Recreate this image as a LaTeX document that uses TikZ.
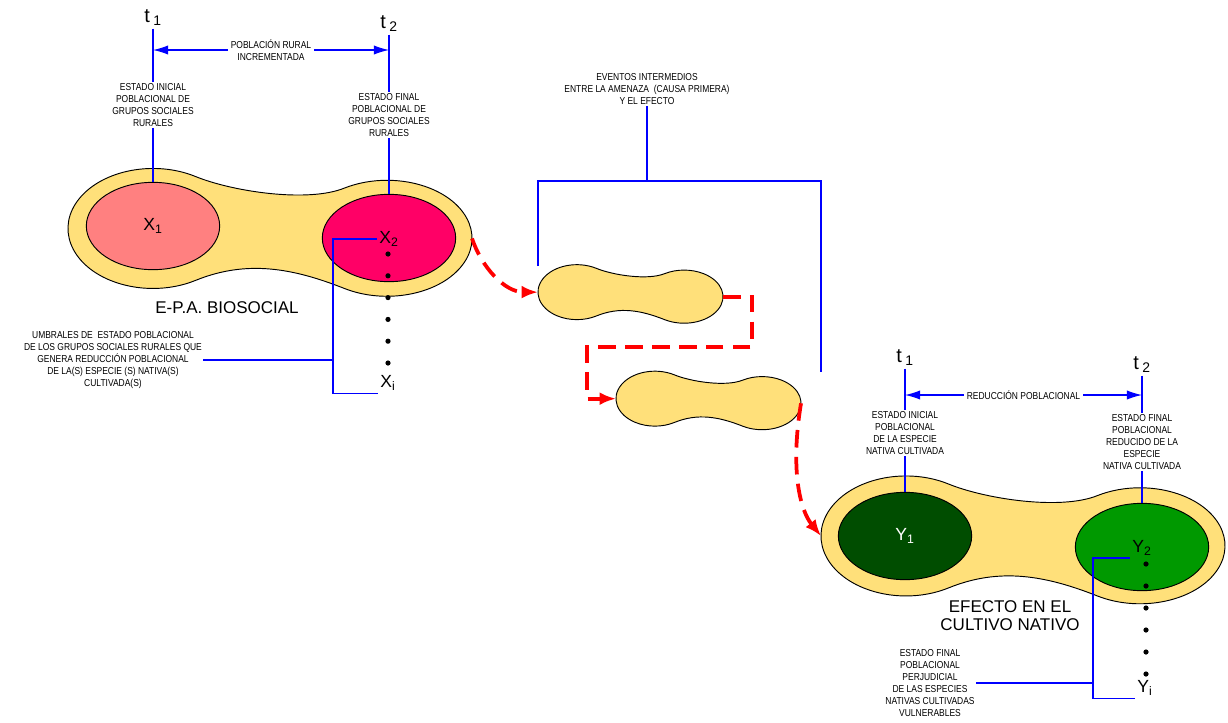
\documentclass[tikz,border=0pt]{standalone}
\usepackage{fontspec}
\setmainfont{Liberation Sans}
\newfontfamily\narrowfont{Liberation Sans}[FakeStretch=0.84]
\usetikzlibrary{shapes.geometric, arrows.meta}

\definecolor{mani}{RGB}{255,224,122}
\definecolor{salmon}{RGB}{255,128,128}
\definecolor{rosa}{RGB}{255,0,102}
\definecolor{verdeosc}{RGB}{0,77,0}
\definecolor{verde}{RGB}{0,153,0}
\definecolor{azul}{RGB}{0,0,255}

\tikzset{
	peanut/.pic={
		\draw[line width=0.8pt, fill=mani] (-74.5,-56) arc[start angle=-60, end angle=-300, x radius=85, y radius=60]
			.. controls (-23,27) and (23,35.7) .. (74.5,56) arc[start angle=120, end angle=-120, x radius=85, y radius=58]
			.. controls (37.7,-29.5) and (-37.7,-41) .. cycle;
		\coordinate (-w) at (-202,-4);
		\coordinate (-e) at (202,6);
	}
}

\begin{document}
\begin{tikzpicture}[x=0.03cm, y=-0.03cm,
	small/.style={font=\narrowfont\fontsize{8.6}{10.4}\selectfont, align=center, inner sep=1pt},
	big/.style={font=\fontsize{14.5}{15.6}\selectfont, align=center, inner sep=1pt},
	tiempo/.style={font=\fontsize{17}{17}\selectfont, inner sep=2pt},
	var/.style={font=\fontsize{15}{15}\selectfont, inner sep=2pt},
	estado/.style={shape=ellipse, draw, line width=0.8pt, minimum width=4cm, minimum height=2.62cm},
	bline/.style={draw=azul, line width=1pt},
	barrow/.style={bline, {Latex[length=13pt,width=8pt]}-{Latex[length=13pt,width=8pt]}},
	rflow/.style={draw=red, line width=3.2pt, dash pattern=on 15pt off 8pt, -{Latex[length=14pt,width=11pt]}}]
	\useasboundingbox (0,0) rectangle (1228,722);
	% Peanuts:
	\pic (pA) at (270,232.5) {peanut};
	\pic[scale=0.458] (p1) at (630.5,294) {peanut};
	\pic[scale=0.458] (p2) at (708.5,400.5) {peanut};
	\pic (pB) at (1023,540) {peanut};
	% Biosocial side:
	\node[estado, fill=salmon, var] (X1) at (153,226) {X\textsubscript{1}};
	\node[estado, fill=rosa] (X2) at (389,238) {};
	\node[var] (x2) at (389,239) {X\textsubscript{2}};
	\node[var] (xi) at (388,383) {X\textsubscript{i}};
	\foreach \i in {0,...,5} \fill (388,254+21.8*\i) circle[radius=2.6];
	\node[tiempo] (tA) at (153,18) {t\,\textsubscript{1}};
	\node[tiempo] (tB) at (389,24) {t\,\textsubscript{2}};
	\node[small] (iniA) at (153,105) {ESTADO INICIAL\\POBLACIONAL DE\\GRUPOS SOCIALES\\RURALES};
	\node[small] (finA) at (389,115) {ESTADO FINAL\\POBLACIONAL DE\\GRUPOS SOCIALES\\RURALES};
	\coordinate (arrA) at (153,50);
	\coordinate (arrB) at (389,50);
	\draw[bline] (tA) -- (iniA);
	\draw[bline] (iniA) -- (X1);
	\draw[bline] (tB) -- (finA);
	\draw[bline] (finA) -- (X2);
	\draw[barrow] (arrA) -- (arrB) node[small, midway, fill=white, inner sep=2pt] (incr) {POBLACIÓN RURAL\\INCREMENTADA};
	\node[big] (bio) at (227,308) {E-P.A. BIOSOCIAL};
	\node[small] (umb) at (113,360) {UMBRALES DE~ ESTADO POBLACIONAL\\DE LOS GRUPOS SOCIALES RURALES QUE\\GENERA REDUCCIÓN POBLACIONAL\\DE LA(S) ESPECIE (S) NATIVA(S)\\CULTIVADA(S)};
	\coordinate (brX) at (333,355);
	\draw[bline] (x2.west) -| (brX) |- (xi.south west);
	\draw[bline] (umb.east) -- (umb.east -| brX);
	% Intermediate events:
	\node[small] (ev) at (647,89) {EVENTOS INTERMEDIOS\\ENTRE LA AMENAZA~ (CAUSA PRIMERA)\\Y EL EFECTO};
	\coordinate (evT) at (647,181);
	\coordinate (evL) at (538,266);
	\coordinate (evR) at (821,372);
	\draw[bline] (ev) -- (evT);
	\draw[bline] (evL) |- (evT) -| (evR);
	\coordinate (bend1) at (752,347);
	\coordinate (bend2) at (587,347);
	\draw[rflow] (pA-e) .. controls (482,268) and (505,292) .. (p1-w);
	\draw[rflow] (p1-e) -| (bend1) -- (bend2) |- (p2-w);
	\draw[rflow] (p2-e) .. controls (790,470) and (800,510) .. (pB-w);
	% Effect side:
	\node[estado, fill=verdeosc, var, text=white] (Y1) at (905,536) {Y\textsubscript{1}};
	\node[estado, fill=verde] (Y2) at (1142,547) {};
	\node[var] (y2) at (1142,548) {Y\textsubscript{2}};
	\node[var] (yi) at (1145,688) {Y\textsubscript{i}};
	\foreach \i in {0,...,5} \fill (1146,564+22*\i) circle[radius=2.6];
	\node[tiempo] (tC) at (905,358) {t\,\textsubscript{1}};
	\node[tiempo] (tD) at (1142,365) {t\,\textsubscript{2}};
	\node[small] (iniC) at (905,433) {ESTADO INICIAL\\POBLACIONAL\\DE LA ESPECIE\\NATIVA CULTIVADA};
	\node[small] (finD) at (1142,442) {ESTADO FINAL\\POBLACIONAL\\REDUCIDO DE LA\\ESPECIE\\NATIVA CULTIVADA};
	\coordinate (arrC) at (905,395);
	\coordinate (arrD) at (1142,395);
	\draw[bline] (tC) -- (iniC);
	\draw[bline] (iniC) -- (Y1);
	\draw[bline] (tD) -- (finD);
	\draw[bline] (finD) -- (Y2);
	\draw[barrow] (arrC) -- (arrD) node[small, midway, fill=white, inner sep=2pt] (redu) {REDUCCIÓN POBLACIONAL};
	\node[big] (efe) at (1010,616) {EFECTO EN EL\\CULTIVO NATIVO};
	\node[small] (per) at (930,683) {ESTADO FINAL\\POBLACIONAL\\PERJUDICIAL\\DE LAS ESPECIES\\NATIVAS CULTIVADAS\\VULNERABLES};
	\coordinate (brY) at (1093,679);
	\draw[bline] (y2.south west) -| (brY) |- (yi.south west);
	\draw[bline] (per.east) -- (per.east -| brY);
\end{tikzpicture}
\end{document}
